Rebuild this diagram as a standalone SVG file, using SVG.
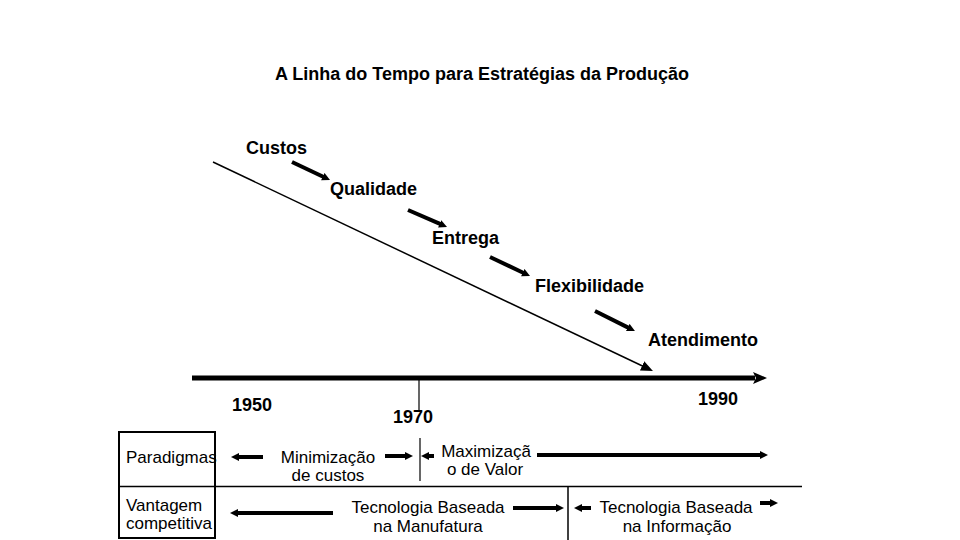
<svg xmlns="http://www.w3.org/2000/svg" width="960" height="540" viewBox="0 0 960 540">
  <defs>
    <style>
      .b { font-family: "Liberation Sans", Arial, sans-serif; font-weight: bold; font-size: 18px; fill: #000; }
      .r { font-family: "Liberation Sans", Arial, sans-serif; font-size: 17px; fill: #000; }
      .c { text-anchor: middle; }
      .thick { stroke: #000; stroke-width: 4; fill: none; }
      .thin { stroke: #000; stroke-width: 1.5; fill: none; }
    </style>
    <marker id="h" markerUnits="userSpaceOnUse" markerWidth="10" markerHeight="10" refX="1" refY="4" orient="auto">
      <path d="M0,0 L8,4 L0,8 z" fill="#000"/>
    </marker>
    <marker id="hd" markerUnits="userSpaceOnUse" markerWidth="14" markerHeight="12" refX="1" refY="5" orient="auto">
      <path d="M0,0 L12,5 L0,10 z" fill="#000"/>
    </marker>
    <marker id="hm" markerUnits="userSpaceOnUse" markerWidth="16" markerHeight="14" refX="2" refY="6" orient="auto">
      <path d="M0,0 L14,6 L0,12 L3,6 z" fill="#000"/>
    </marker>
  </defs>
  <rect width="960" height="540" fill="#fff"/>

  <g id="title">
    <text class="b" x="482" y="80" text-anchor="middle">A Linha do Tempo para Estratégias da Produção</text>
  </g>

  <g id="custos"><text class="b" x="246" y="154">Custos</text></g>
  <g id="qualidade"><text class="b" x="330" y="195">Qualidade</text></g>
  <g id="entrega"><text class="b" x="432" y="244">Entrega</text></g>
  <g id="flexibilidade"><text class="b" x="535" y="292">Flexibilidade</text></g>
  <g id="atendimento"><text class="b" x="648" y="346">Atendimento</text></g>

  <g id="y1950"><text class="b" x="232" y="411">1950</text></g>
  <g id="y1970"><text class="b" x="393" y="423">1970</text></g>
  <g id="y1990"><text class="b" x="698" y="405">1990</text></g>

  <g id="table">
    <rect x="119" y="432" width="96" height="106" fill="none" stroke="#000" stroke-width="2"/>
    <line x1="119" y1="486.5" x2="802" y2="486.5" stroke="#000" stroke-width="1.5"/>
    <line x1="568" y1="487" x2="568" y2="540" stroke="#000" stroke-width="1.5"/>
  </g>

  <g id="paradigmas"><text class="r" x="126" y="463">Paradigmas</text></g>
  <g id="vantagem"><text class="r" x="126" y="511">Vantagem</text><text class="r" x="126" y="529">competitiva</text></g>
  <g id="minimizacao"><text class="r c" x="328" y="463">Minimização</text><text class="r c" x="328" y="481">de custos</text></g>
  <g id="maximizacao"><text class="r c" x="486" y="457">Maximizaçã</text><text class="r c" x="485" y="475">o de Valor</text></g>
  <g id="tec-manufatura"><text class="r c" x="428" y="513">Tecnologia Baseada</text><text class="r c" x="428" y="532">na Manufatura</text></g>
  <g id="tec-informacao"><text class="r c" x="676" y="513">Tecnologia Baseada</text><text class="r c" x="677" y="532">na Informação</text></g>

  <g id="connectors">
    <!-- timeline -->
    <line x1="192" y1="378" x2="755" y2="378" stroke="#000" stroke-width="5" marker-end="url(#hm)"/>
    <line x1="419" y1="378" x2="419" y2="410" stroke="#000" stroke-width="1.2"/>
    <line x1="420" y1="438" x2="420" y2="481" stroke="#000" stroke-width="1.2"/>
    <!-- long diagonal -->
    <line x1="213" y1="162" x2="643" y2="366.3" class="thin" marker-end="url(#hd)"/>
    <!-- small diagonal arrows -->
    <line x1="292" y1="162" x2="323.7" y2="177" class="thick" marker-end="url(#h)"/>
    <line x1="408" y1="210" x2="440.6" y2="224.2" class="thick" marker-end="url(#h)"/>
    <line x1="490" y1="257" x2="523.7" y2="273" class="thick" marker-end="url(#h)"/>
    <line x1="595" y1="311" x2="628.7" y2="327.9" class="thick" marker-end="url(#h)"/>
    <!-- horizontal arrows -->
    <line x1="263" y1="457" x2="238" y2="457" class="thick" marker-end="url(#h)"/>
    <line x1="385" y1="456" x2="406" y2="456" class="thick" marker-end="url(#h)"/>
    <line x1="434" y1="456" x2="428" y2="456" class="thick" marker-end="url(#h)"/>
    <line x1="537" y1="455" x2="761" y2="455" class="thick" marker-end="url(#h)"/>
    <line x1="333" y1="513" x2="237" y2="513" class="thick" marker-end="url(#h)"/>
    <line x1="513" y1="508" x2="557" y2="508" class="thick" marker-end="url(#h)"/>
    <line x1="591" y1="508" x2="581" y2="508" class="thick" marker-end="url(#h)"/>
    <line x1="760" y1="503" x2="771" y2="503" class="thick" marker-end="url(#h)"/>
  </g>
</svg>
